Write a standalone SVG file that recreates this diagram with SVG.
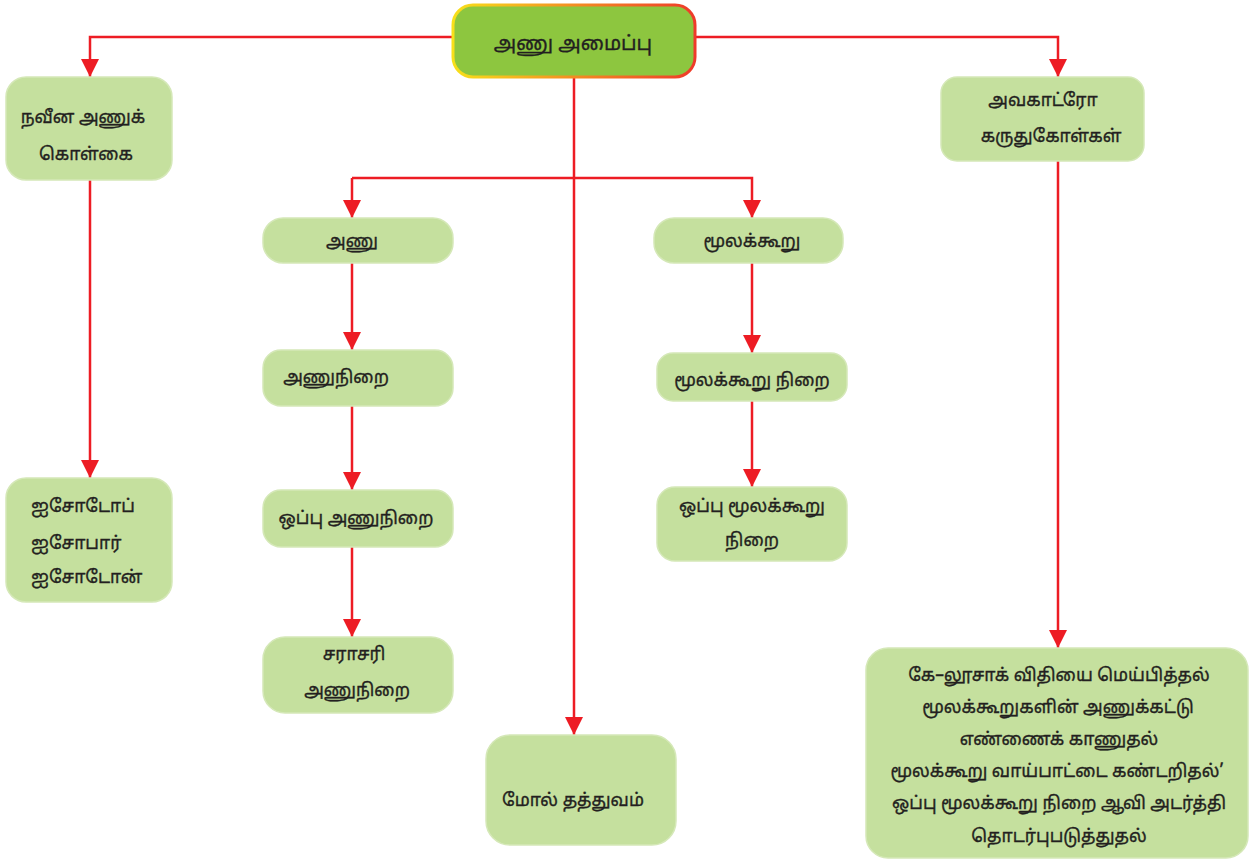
<svg xmlns="http://www.w3.org/2000/svg" width="1250" height="860" viewBox="0 0 1250 860">
<defs>
<linearGradient id="topStroke" x1="0" y1="0" x2="1" y2="0">
<stop offset="0" stop-color="#f7e01a"/>
<stop offset="1" stop-color="#ee3a2a"/>
</linearGradient>
<marker id="arr" viewBox="0 0 10 10" refX="10" refY="5" markerWidth="18" markerHeight="18" markerUnits="userSpaceOnUse" orient="auto">
<path d="M0,0 L10,5 L0,10 z" fill="#ed1c24"/>
</marker>
</defs>
<style>
.n{fill:#c5e09e;stroke:#d5e8b8;stroke-width:1.5}
.t{font-family:"Noto Sans Tamil","Lohit Tamil","Latha","Noto Sans",sans-serif;font-size:17.5px;fill:#231f20;stroke:#231f20;stroke-width:0.35;text-anchor:middle}
.s{text-anchor:start}
.c{fill:none;stroke:#ed1c24;stroke-width:2.5}
</style>
<rect width="1250" height="860" fill="#ffffff"/>
<g id="connectors">
<path class="c" d="M453,37 H90 V77" marker-end="url(#arr)"/>
<path class="c" d="M695,37 H1058 V77" marker-end="url(#arr)"/>
<path class="c" d="M90,180 V478" marker-end="url(#arr)"/>
<path class="c" d="M1058,161 V648" marker-end="url(#arr)"/>
<path class="c" d="M574,77 V735" marker-end="url(#arr)"/>
<path class="c" d="M352,178 H752 V218" marker-end="url(#arr)"/>
<path class="c" d="M352,178 V218" marker-end="url(#arr)"/>
<path class="c" d="M352,263 V350" marker-end="url(#arr)"/>
<path class="c" d="M352,406 V490" marker-end="url(#arr)"/>
<path class="c" d="M352,547 V637" marker-end="url(#arr)"/>
<path class="c" d="M752,263 V353" marker-end="url(#arr)"/>
<path class="c" d="M752,401 V487" marker-end="url(#arr)"/>
</g>
<g id="n-top">
<rect x="453" y="5" width="242" height="72" rx="20" fill="#8dc63f" stroke="url(#topStroke)" stroke-width="3"/>
<text class="t" x="573" y="50" style="font-size:20px">அணு அமைப்பு</text>
</g>
<g id="n-naveena">
<rect class="n" x="6" y="77" width="166" height="103" rx="20"/>
<text class="t" x="83" y="123">நவீன அணுக்</text>
<text class="t" x="86" y="160">கொள்கை</text>
</g>
<g id="n-avogadro">
<rect class="n" x="941" y="77" width="203" height="84" rx="16"/>
<text class="t" x="1043" y="106">அவகாட்ரோ</text>
<text class="t" x="1051" y="142">கருதுகோள்கள்</text>
</g>
<g id="n-isotope">
<rect class="n" x="6" y="478" width="166" height="124" rx="20"/>
<text class="t s" x="31" y="512">ஐசோடோப்</text>
<text class="t s" x="31" y="549">ஐசோபார்</text>
<text class="t s" x="31" y="583">ஐசோடோன்</text>
</g>
<g id="n-anu">
<rect class="n" x="263" y="218" width="190" height="45" rx="20"/>
<text class="t" x="352" y="247">அணு</text>
</g>
<g id="n-molecule">
<rect class="n" x="654" y="218" width="189" height="45" rx="20"/>
<text class="t" x="752" y="247">மூலக்கூறு</text>
</g>
<g id="n-atomic-mass">
<rect class="n" x="263" y="350" width="190" height="56" rx="18"/>
<text class="t" x="336" y="383">அணுநிறை</text>
</g>
<g id="n-molecular-mass">
<rect class="n" x="657" y="353" width="190" height="48" rx="16"/>
<text class="t" x="752" y="386">மூலக்கூறு நிறை</text>
</g>
<g id="n-relative-atomic">
<rect class="n" x="263" y="490" width="190" height="57" rx="18"/>
<text class="t" x="356" y="524">ஒப்பு அணுநிறை</text>
</g>
<g id="n-relative-molecular">
<rect class="n" x="657" y="487" width="190" height="74" rx="18"/>
<text class="t" x="752" y="512">ஒப்பு மூலக்கூறு</text>
<text class="t" x="752" y="546">நிறை</text>
</g>
<g id="n-average">
<rect class="n" x="263" y="637" width="190" height="76" rx="22"/>
<text class="t" x="354" y="660">சராசரி</text>
<text class="t" x="357" y="696">அணுநிறை</text>
</g>
<g id="n-mole">
<rect class="n" x="486" y="735" width="190" height="110" rx="24"/>
<text class="t" x="573" y="806">மோல் தத்துவம்</text>
</g>
<g id="n-applications">
<rect class="n" x="866" y="648" width="382" height="210" rx="22"/>
<text class="t" x="1059" y="681">கே–லூசாக் விதியை மெய்பித்தல்</text>
<text class="t" x="1058" y="713">மூலக்கூறுகளின் அணுக்கட்டு</text>
<text class="t" x="1059" y="745">எண்ணைக் காணுதல்</text>
<text class="t" x="1057" y="777">மூலக்கூறு வாய்பாட்டை கண்டறிதல்’</text>
<text class="t" x="1059" y="809">ஒப்பு மூலக்கூறு நிறை ஆவி அடர்த்தி</text>
<text class="t" x="1059" y="842">தொடர்புபடுத்துதல்</text>
</g>
</svg>
